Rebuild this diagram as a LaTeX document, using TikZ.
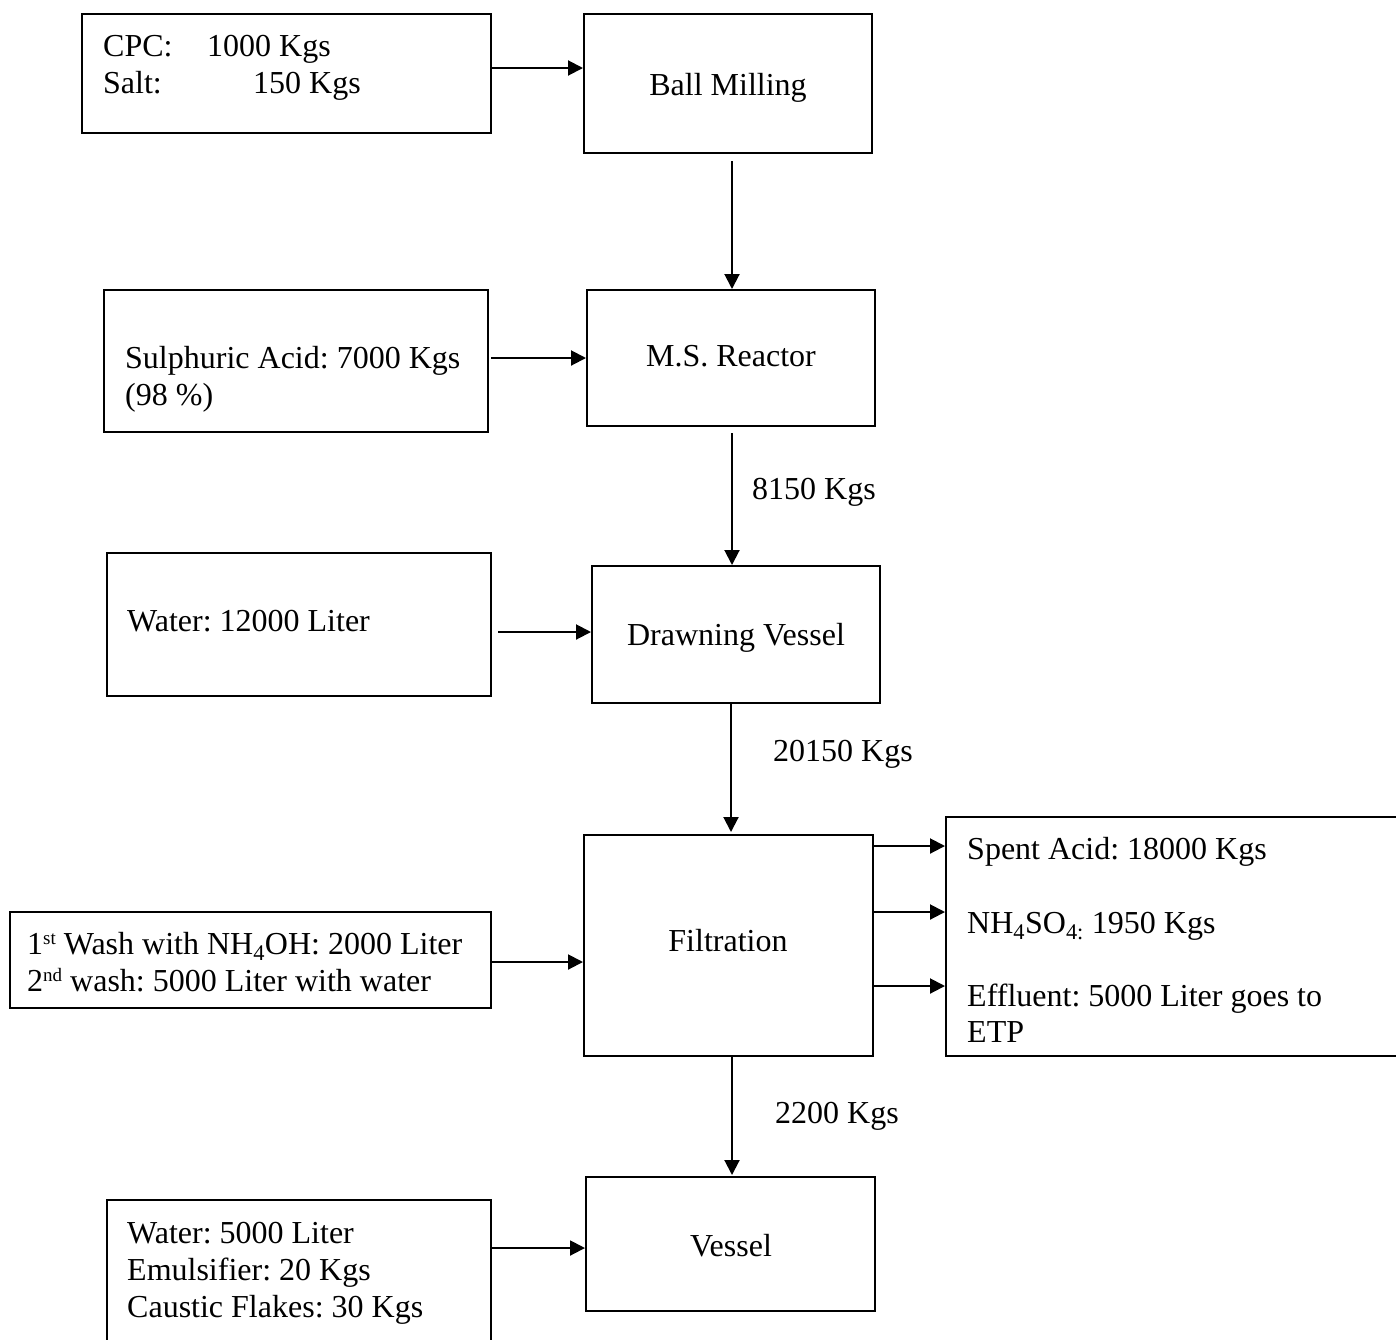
\documentclass[tikz,border=0pt]{standalone}
\usepackage{fontspec}
\setmainfont{Liberation Serif}
\usetikzlibrary{arrows.meta}
\frenchspacing
\newcommand{\ordsup}[1]{\raisebox{10pt}{\fontsize{19}{19}\selectfont #1}}

\begin{document}
\begin{tikzpicture}[x=1pt,y=-1pt,
  font=\fontsize{32}{37}\selectfont,
  box/.style={draw, line width=2pt, inner sep=0pt, rectangle},
  txt/.style={anchor=base west, inner sep=0pt},
  ctxt/.style={anchor=base, inner sep=0pt},
  arr/.style={line width=2pt, -{Triangle[length=15pt,width=15pt]}}]

\useasboundingbox (0,0) rectangle (1396,1339);
\clip (0,0) rectangle (1396,1339);

% process boxes
\node[box, minimum width=409pt, minimum height=119pt] (cpc)  at (286.5,73.5) {};
\node[box, minimum width=288pt, minimum height=139pt] (bm)   at (728,83.5) {};
\node[box, minimum width=384pt, minimum height=142pt] (sul)  at (296,361) {};
\node[box, minimum width=288pt, minimum height=136pt] (msr)  at (731,358) {};
\node[box, minimum width=384pt, minimum height=143pt] (wat)  at (299,624.5) {};
\node[box, minimum width=288pt, minimum height=137pt] (dv)   at (736,634.5) {};
\node[box, minimum width=481pt, minimum height=96pt]  (wash) at (250.5,960) {};
\node[box, minimum width=289pt, minimum height=221pt] (filt) at (728.5,945.5) {};
\node[box, minimum width=474pt, minimum height=239pt] (out)  at (1183,936.5) {};
\node[box, minimum width=289pt, minimum height=134pt] (ves)  at (730.5,1244) {};
\node[box, minimum width=384pt, minimum height=160pt] (add)  at (299,1280) {};

% box texts
\node[txt] (tcpc)  at (103,56)  {\makebox[104pt][l]{CPC:}1000 Kgs};
\node[txt] (tsalt) at (103,93)  {\makebox[150pt][l]{Salt:}150 Kgs};
\node[ctxt] (tbm)  at (728,95)  {Ball Milling};
\node[txt] (tsul)  at (125,368) {Sulphuric Acid: 7000 Kgs};
\node[txt] (tpct)  at (125,405) {(98 \%)};
\node[ctxt] (tmsr) at (731,366) {M.S. Reactor};
\node[txt] (twat)  at (127,631) {Water: 12000 Liter};
\node[ctxt] (tdv)  at (736,645) {Drawning Vessel};
\node[txt] (tw1)   at (27,954)  {1\ordsup{st} Wash with NH\textsubscript{4}OH: 2000 Liter};
\node[txt] (tw2)   at (27,991)  {2\ordsup{nd} wash: 5000 Liter with water};
\node[ctxt] (tfilt) at (728,951) {Filtration};
\node[txt] (to1)   at (967,859)  {Spent Acid: 18000 Kgs};
\node[txt] (to2)   at (967,933)  {NH\textsubscript{4}SO\textsubscript{4:} 1950 Kgs};
\node[txt] (to3)   at (967,1006) {Effluent: 5000 Liter goes to};
\node[txt] (to4)   at (967,1042) {ETP};
\node[ctxt] (tves) at (731,1256) {Vessel};
\node[txt] (ta1)   at (127,1243) {Water: 5000 Liter};
\node[txt] (ta2)   at (127,1280) {Emulsifier: 20 Kgs};
\node[txt] (ta3)   at (127,1317) {Caustic Flakes: 30 Kgs};

% flow labels
\node[txt] (l1) at (752,499)  {8150 Kgs};
\node[txt] (l2) at (773,761)  {20150 Kgs};
\node[txt] (l3) at (775,1123) {2200 Kgs};

% connector rows and columns
\coordinate (r1) at (0,68);
\coordinate (r2) at (0,358);
\coordinate (r3) at (0,632);
\coordinate (r4) at (0,962);
\coordinate (r5) at (0,1248);
\coordinate (o1) at (0,846);
\coordinate (o2) at (0,912);
\coordinate (o3) at (0,986);
\coordinate (c1) at (732,0);
\coordinate (c2) at (731,0);

% horizontal feeds
\draw[arr] (cpc.east |- r1) -- (bm.west |- r1);
\draw[arr, shorten <=2pt] (sul.east |- r2) -- (msr.west |- r2);
\draw[arr, shorten <=6pt] (wat.east |- r3) -- (dv.west |- r3);
\draw[arr] (wash.east |- r4) -- (filt.west |- r4);
\draw[arr] (add.east |- r5) -- (ves.west |- r5);

% filtration outputs
\draw[arr] (filt.east |- o1) -- (out.west |- o1);
\draw[arr] (filt.east |- o2) -- (out.west |- o2);
\draw[arr] (filt.east |- o3) -- (out.west |- o3);

% main vertical flow
\draw[arr, shorten <=7pt] (bm.south -| c1) -- (msr.north -| c1);
\draw[arr, shorten <=6pt] (msr.south -| c1) -- (dv.north -| c1);
\draw[arr, shorten >=2pt] (dv.south -| c2) -- (filt.north -| c2);
\draw[arr, shorten >=1pt] (filt.south -| c1) -- (ves.north -| c1);

\end{tikzpicture}
\end{document}
